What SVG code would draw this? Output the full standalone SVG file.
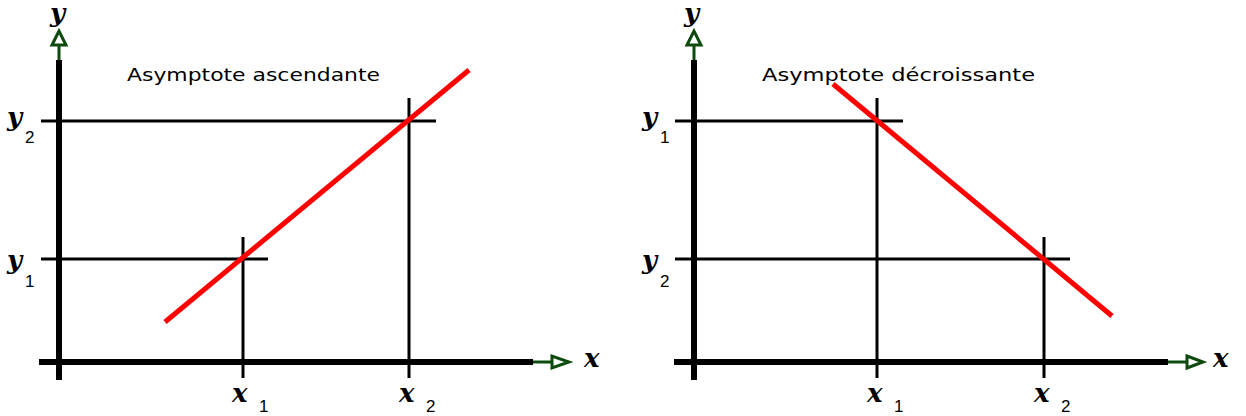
<svg xmlns="http://www.w3.org/2000/svg" width="1246" height="416" viewBox="0 0 1246 416">
<style>
.axis{stroke:#000;stroke-width:6;fill:none}
.thin{stroke:#000;stroke-width:3;fill:none}
.red{stroke:#ff0000;stroke-width:5;fill:none}
.g{stroke:#0d4a0d;stroke-width:3;fill:none}
.gh{stroke:#0d4a0d;stroke-width:3;fill:#fff}
.m{font-family:"DejaVu Serif",serif;font-weight:bold;font-style:italic;font-size:26px;fill:#000}
.s{font-family:"Liberation Sans",sans-serif;font-size:17px;fill:#000}
.t{font-family:"DejaVu Sans",sans-serif;font-size:18px;fill:#000}
</style>
<rect width="1246" height="416" fill="#fff"/>
<g id="connectors">
<line class="thin" x1="41" y1="121" x2="436" y2="121"/>
<line class="thin" x1="41" y1="259" x2="268" y2="259"/>
<line class="thin" x1="243" y1="237" x2="243" y2="378"/>
<line class="thin" x1="409" y1="98" x2="409" y2="378"/>
<line class="axis" x1="59" y1="60" x2="59" y2="380"/>
<line class="axis" x1="39" y1="362" x2="533" y2="362"/>
<line class="g" x1="59" y1="45" x2="59" y2="60"/>
<polygon class="gh" points="59,31 52,45 66,45"/>
<line class="g" x1="533" y1="362" x2="552" y2="362"/>
<polygon class="gh" points="552,356 552,368 569,362"/>
<line class="red" x1="165" y1="322" x2="469" y2="70"/>
<line class="thin" x1="675" y1="121" x2="903" y2="121"/>
<line class="thin" x1="675" y1="259" x2="1070" y2="259"/>
<line class="thin" x1="877" y1="98" x2="877" y2="378"/>
<line class="thin" x1="1044" y1="237" x2="1044" y2="378"/>
<line class="axis" x1="694" y1="60" x2="694" y2="380"/>
<line class="axis" x1="674" y1="362" x2="1168" y2="362"/>
<line class="g" x1="694" y1="45" x2="694" y2="60"/>
<polygon class="gh" points="694,31 687,45 701,45"/>
<line class="g" x1="1168" y1="362" x2="1187" y2="362"/>
<polygon class="gh" points="1187,356 1187,368 1203,362"/>
<line class="red" x1="833" y1="84" x2="1112" y2="316"/>
</g>
<g id="left-title"><text class="t" x="127" y="81" textLength="253" lengthAdjust="spacingAndGlyphs">Asymptote ascendante</text></g>
<g id="left-y"><text class="m" x="50" y="22">y</text></g>
<g id="left-y2"><text class="m" x="7" y="126">y</text><text class="s" x="25" y="143">2</text></g>
<g id="left-y1"><text class="m" x="7" y="269">y</text><text class="s" x="25" y="287">1</text></g>
<g id="left-x"><text class="m" x="584" y="367">x</text></g>
<g id="left-x1"><text class="m" x="232" y="402">x</text><text class="s" x="259" y="412">1</text></g>
<g id="left-x2"><text class="m" x="399" y="402">x</text><text class="s" x="426" y="412">2</text></g>
<g id="right-title"><text class="t" x="762" y="81" textLength="273" lengthAdjust="spacingAndGlyphs">Asymptote décroissante</text></g>
<g id="right-y"><text class="m" x="684" y="22">y</text></g>
<g id="right-y1"><text class="m" x="642" y="126">y</text><text class="s" x="660" y="143">1</text></g>
<g id="right-y2"><text class="m" x="642" y="269">y</text><text class="s" x="660" y="287">2</text></g>
<g id="right-x"><text class="m" x="1213" y="367">x</text></g>
<g id="right-x1"><text class="m" x="867" y="402">x</text><text class="s" x="894" y="412">1</text></g>
<g id="right-x2"><text class="m" x="1034" y="402">x</text><text class="s" x="1061" y="412">2</text></g>
</svg>
